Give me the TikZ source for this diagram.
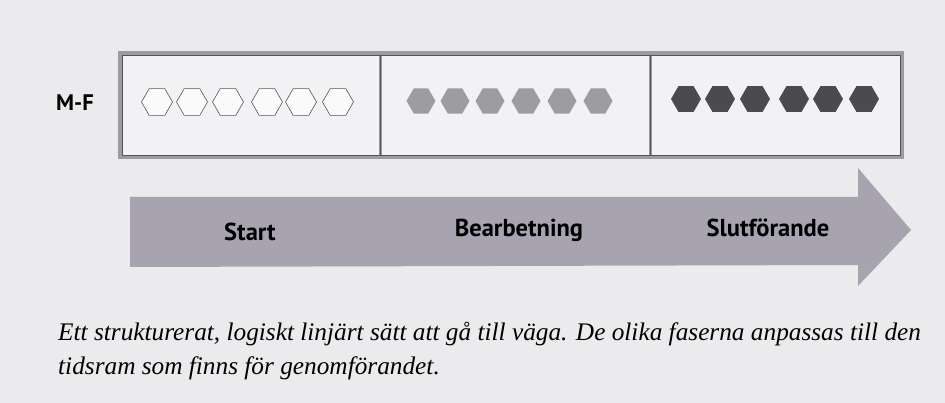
\documentclass[tikz,border=0pt]{standalone}
\usepackage{fontspec}
\setmainfont{Liberation Serif}
\newfontfamily\phasefont{PT Sans}
\usetikzlibrary{shapes.geometric}

\definecolor{paper}{HTML}{EBEBED}
\definecolor{cellfill}{HTML}{F2F2F4}
\definecolor{framegrey}{HTML}{9C9AA2}
\definecolor{framedark}{HTML}{55545A}
\definecolor{midhex}{HTML}{9D9CA1}
\definecolor{darkhex}{HTML}{4B4A4F}
\definecolor{arrowgrey}{HTML}{A8A4AF}

\tikzset{
  hexa/.style={regular polygon, regular polygon sides=6, minimum size=31pt, inner sep=0pt},
  phase/.style={font=\phasefont\bfseries\fontsize{24.5}{28}\selectfont},
  caption/.style={font=\itshape\fontsize{25.3}{29}\selectfont, anchor=base west, inner sep=0pt}
}

\begin{document}
\begin{tikzpicture}[x=1pt, y=-1pt]
  % page
  \fill[paper] (0,0) rectangle (945,403);
  \useasboundingbox (0,0) rectangle (945,403);

  % frame with three cells
  \fill[cellfill] (120,53) rectangle (902,157);
  \draw[line width=4.5pt, framegrey] (120,53) rectangle (902,157);
  \draw[line width=3pt, framegrey] (380,53) -- (380,157) (650,53) -- (650,157);
  \draw[line width=0.6pt, framedark] (122,55) rectangle (900,155);
  \draw[line width=0.6pt, framedark] (380,55) -- (380,155) (650,55) -- (650,155);
  \node[font=\phasefont\bfseries\fontsize{22.5}{26}\selectfont] (mf) at (75,103) {M-F};

  % hexagons: empty, grey, dark
  \foreach \x [count=\i] in {157,192,228,267,301,338}
    \node[hexa, draw=framedark, line width=0.6pt, fill=white!60!cellfill] (open-\i) at (\x,102) {};
  \foreach \x [count=\i] in {421,455,490,526,562,598}
    \node[hexa, fill=midhex, minimum size=29pt] (grey-\i) at (\x,101) {};
  \foreach \x [count=\i] in {686,720,755,794,828,864}
    \node[hexa, fill=darkhex, minimum size=30pt] (dark-\i) at (\x,99) {};

  % arrow
  \fill[arrowgrey] (130,197) -- (858,197) -- (858,168) -- (911,230)
    -- (858,286) -- (858,265) -- (130,267) -- cycle;
  \node[phase] (start) at (250,232) {Start};
  \node[phase] (bearb) at (519,230) {Bearbetning};
  \node[phase] (slut) at (768,228) {Slutförande};

  % caption
  \node[caption] (cap1) at (58,340) {Ett strukturerat, logiskt linjärt sätt att gå till väga. De olika faserna anpassas till den};
  \node[caption] (cap2) at (58,374) {tidsram som finns för genomförandet.};
\end{tikzpicture}
\end{document}
